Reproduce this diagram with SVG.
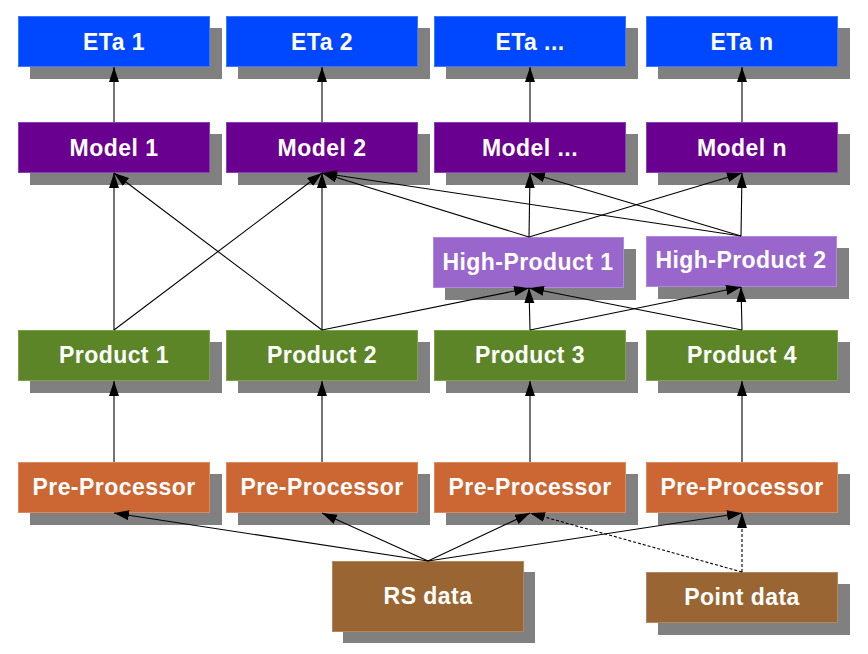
<svg xmlns="http://www.w3.org/2000/svg" width="868" height="654" viewBox="0 0 868 654">
<style>
.sh{fill:#808080}
.t{font-family:"Liberation Sans",Arial,sans-serif;font-weight:bold;font-size:23px;letter-spacing:0.45px;fill:#ffffff;text-anchor:middle}
.eta{fill:#0048ff;stroke:#3c78ff;stroke-width:1}
.mod{fill:#6a0090;stroke:#8a40b0;stroke-width:1}
.hp{fill:#9966cc;stroke:#b088dd;stroke-width:1}
.pr{fill:#5c8527;stroke:#7ea050;stroke-width:1}
.pp{fill:#cc6633;stroke:#dd8a60;stroke-width:1}
.dat{fill:#996633;stroke:#b08860;stroke-width:1}
.c{stroke:#000;stroke-width:1.1;fill:none;marker-end:url(#ah)}
.d{stroke-dasharray:3,2}
</style>
<defs>
<marker id="ah" markerUnits="userSpaceOnUse" markerWidth="16" markerHeight="11" refX="15" refY="5" orient="auto">
<path d="M0,0 L15,5 L0,10 z" fill="#000"/>
</marker>
</defs>
<rect width="868" height="654" fill="#ffffff"/>
<g id="eta1"><rect class="sh" x="30" y="28" width="192" height="51"/><rect class="eta" x="18.5" y="16.5" width="191" height="50"/><text class="t" x="114" y="50">ETa 1</text></g>
<g id="eta2"><rect class="sh" x="238" y="28" width="192" height="51"/><rect class="eta" x="226.5" y="16.5" width="191" height="50"/><text class="t" x="322" y="50">ETa 2</text></g>
<g id="eta3"><rect class="sh" x="446" y="28" width="192" height="51"/><rect class="eta" x="434.5" y="16.5" width="191" height="50"/><text class="t" x="530" y="50">ETa ...</text></g>
<g id="etan"><rect class="sh" x="658" y="28" width="192" height="51"/><rect class="eta" x="646.5" y="16.5" width="191" height="50"/><text class="t" x="742" y="50">ETa n</text></g>
<g id="model1"><rect class="sh" x="30" y="134" width="192" height="51"/><rect class="mod" x="18.5" y="122.5" width="191" height="50"/><text class="t" x="114" y="156">Model 1</text></g>
<g id="model2"><rect class="sh" x="238" y="134" width="192" height="51"/><rect class="mod" x="226.5" y="122.5" width="191" height="50"/><text class="t" x="322" y="156">Model 2</text></g>
<g id="model3"><rect class="sh" x="446" y="134" width="192" height="51"/><rect class="mod" x="434.5" y="122.5" width="191" height="50"/><text class="t" x="530" y="156">Model ...</text></g>
<g id="modeln"><rect class="sh" x="658" y="134" width="192" height="51"/><rect class="mod" x="646.5" y="122.5" width="191" height="50"/><text class="t" x="742" y="156">Model n</text></g>
<g id="hp1"><rect class="sh" x="445" y="249" width="191" height="51"/><rect class="hp" x="433.5" y="237.5" width="190" height="50"/><text class="t" x="528" y="270">High-Product 1</text></g>
<g id="hp2"><rect class="sh" x="658" y="248" width="191" height="51"/><rect class="hp" x="646.5" y="236.5" width="190" height="50"/><text class="t" x="741" y="268">High-Product 2</text></g>
<g id="prod1"><rect class="sh" x="30" y="342" width="192" height="51"/><rect class="pr" x="18.5" y="330.5" width="191" height="50"/><text class="t" x="114" y="363">Product 1</text></g>
<g id="prod2"><rect class="sh" x="238" y="342" width="192" height="51"/><rect class="pr" x="226.5" y="330.5" width="191" height="50"/><text class="t" x="322" y="363">Product 2</text></g>
<g id="prod3"><rect class="sh" x="446" y="342" width="192" height="51"/><rect class="pr" x="434.5" y="330.5" width="191" height="50"/><text class="t" x="530" y="363">Product 3</text></g>
<g id="prod4"><rect class="sh" x="658" y="342" width="192" height="51"/><rect class="pr" x="646.5" y="330.5" width="191" height="50"/><text class="t" x="742" y="363">Product 4</text></g>
<g id="pp1"><rect class="sh" x="30" y="474" width="192" height="51"/><rect class="pp" x="18.5" y="462.5" width="191" height="50"/><text class="t" x="114" y="495">Pre-Processor</text></g>
<g id="pp2"><rect class="sh" x="238" y="474" width="192" height="51"/><rect class="pp" x="226.5" y="462.5" width="191" height="50"/><text class="t" x="322" y="495">Pre-Processor</text></g>
<g id="pp3"><rect class="sh" x="446" y="474" width="192" height="51"/><rect class="pp" x="434.5" y="462.5" width="191" height="50"/><text class="t" x="530" y="495">Pre-Processor</text></g>
<g id="pp4"><rect class="sh" x="658" y="474" width="192" height="51"/><rect class="pp" x="646.5" y="462.5" width="191" height="50"/><text class="t" x="742" y="495">Pre-Processor</text></g>
<g id="rsdata"><rect class="sh" x="343" y="572" width="192" height="71"/><rect class="dat" x="332.5" y="561.5" width="191" height="70"/><text class="t" x="428" y="604">RS data</text></g>
<g id="pointdata"><rect class="sh" x="658" y="584" width="192" height="51"/><rect class="dat" x="646.5" y="572.5" width="191" height="50"/><text class="t" x="742" y="605">Point data</text></g>
<g id="connectors">
<line class="c" x1="114" y1="122" x2="114" y2="67"/>
<line class="c" x1="322" y1="122" x2="322" y2="67"/>
<line class="c" x1="530" y1="122" x2="530" y2="67"/>
<line class="c" x1="742" y1="122" x2="742" y2="67"/>
<line class="c" x1="114" y1="330" x2="114" y2="173"/>
<line class="c" x1="114" y1="330" x2="322" y2="173"/>
<line class="c" x1="322" y1="330" x2="114" y2="173"/>
<line class="c" x1="322" y1="330" x2="322" y2="173"/>
<line class="c" x1="322" y1="330" x2="529" y2="288"/>
<line class="c" x1="529" y1="237" x2="322" y2="173"/>
<line class="c" x1="529" y1="237" x2="530" y2="173"/>
<line class="c" x1="529" y1="237" x2="742" y2="173"/>
<line class="c" x1="741" y1="236" x2="322" y2="173"/>
<line class="c" x1="741" y1="236" x2="530" y2="173"/>
<line class="c" x1="741" y1="236" x2="742" y2="173"/>
<line class="c" x1="530" y1="330" x2="529" y2="288"/>
<line class="c" x1="530" y1="330" x2="741" y2="287"/>
<line class="c" x1="742" y1="330" x2="529" y2="288"/>
<line class="c" x1="742" y1="330" x2="741" y2="287"/>
<line class="c" x1="114" y1="462" x2="114" y2="381"/>
<line class="c" x1="322" y1="462" x2="322" y2="381"/>
<line class="c" x1="530" y1="462" x2="530" y2="381"/>
<line class="c" x1="742" y1="462" x2="742" y2="381"/>
<line class="c" x1="428" y1="561" x2="114" y2="513"/>
<line class="c" x1="428" y1="561" x2="322" y2="513"/>
<line class="c" x1="428" y1="561" x2="530" y2="513"/>
<line class="c" x1="428" y1="561" x2="742" y2="513"/>
<line class="c d" x1="742" y1="572" x2="742" y2="513"/>
<line class="c d" x1="742" y1="572" x2="530" y2="513"/>
</g>
</svg>
